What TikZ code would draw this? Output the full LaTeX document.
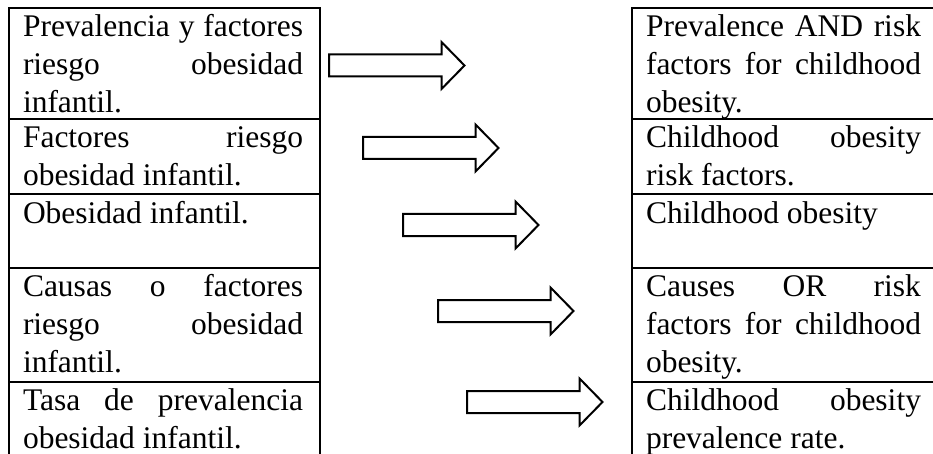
\documentclass[tikz,border=0pt]{standalone}
\usepackage{fontspec}
\setmainfont{Liberation Serif}
\tikzset{
  tline/.style={line width=2pt, line join=miter, line cap=rect},
  arrowline/.style={line width=2pt, line join=miter, fill=white},
  cell/.style={anchor=north west, inner sep=0pt, outer sep=0pt, align=justify,
    font=\fontsize{31.5}{38}\selectfont},
  lcell/.style={cell, text width=280pt},
  rcell/.style={cell, text width=275pt},
  blockarrow/.pic={
    \draw[arrowline] (0,-11) -- (112.5,-11) -- (112.5,-23.5) -- (135.5,0)
      -- (112.5,23.5) -- (112.5,11) -- (0,11) -- cycle;
  }
}
\newcommand{\firstline}{\hyphenpenalty=10000 \exhyphenpenalty=10000 \tolerance=10000 \noindent\vrule width 0pt height 28.5pt depth 0pt\relax}
\begin{document}
\begin{tikzpicture}[x=1pt, y=-1pt]
\useasboundingbox (0,0) rectangle (933,454);
% left table
\draw[tline] (9,454) -- (9,8) -- (320,8) -- (320,454);
\foreach \yy in {119,194,268,382} \draw[tline] (9,\yy) -- (320,\yy);
% right table
\draw[tline] (632,454) -- (632,8) -- (933,8);
\foreach \yy in {119,194,268,382} \draw[tline] (632,\yy) -- (933,\yy);
% left cells
\node[lcell] (lc1) at (23,8)   {\firstline Prevalencia y factores\linebreak riesgo obesidad\linebreak infantil.};
\node[lcell] (lc2) at (23,119) {\firstline Factores riesgo\linebreak obesidad infantil.};
\node[lcell] (lc3) at (23,195) {\firstline Obesidad infantil.};
\node[lcell] (lc4) at (23,268) {\firstline Causas o factores\linebreak riesgo obesidad\linebreak infantil.};
\node[lcell] (lc5) at (23,382) {\firstline Tasa de prevalencia\linebreak obesidad infantil.};
% right cells
\node[rcell] (rc1) at (646,8)   {\firstline Prevalence AND risk\linebreak factors for childhood\linebreak obesity.};
\node[rcell] (rc2) at (646,119) {\firstline Childhood obesity\linebreak risk factors.};
\node[rcell] (rc3) at (646,195) {\firstline Childhood obesity};
\node[rcell] (rc4) at (646,268) {\firstline Causes OR risk\linebreak factors for childhood\linebreak obesity.};
\node[rcell] (rc5) at (646,382) {\firstline Childhood obesity\linebreak prevalence rate.};
% arrows
\pic (a1) at (329,65.5) {blockarrow};
\pic (a2) at (363,148)  {blockarrow};
\pic (a3) at (403,225)  {blockarrow};
\pic (a4) at (438,311)  {blockarrow};
\pic (a5) at (467,402)  {blockarrow};
\end{tikzpicture}
\end{document}
